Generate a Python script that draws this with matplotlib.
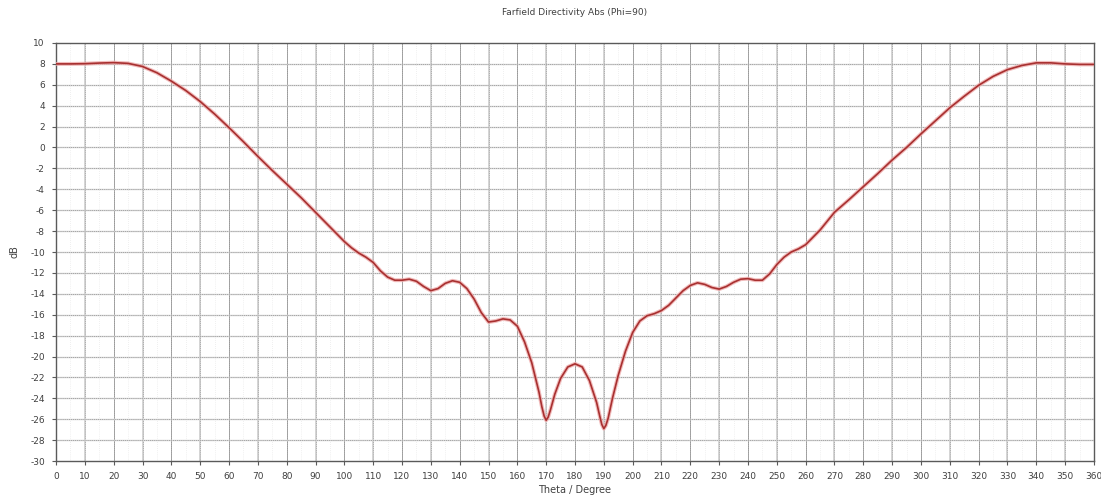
import numpy as np
import matplotlib
matplotlib.use("Agg")
import matplotlib.pyplot as plt

plt.rcParams['axes.unicode_minus'] = False

# Farfield directivity cut, Phi = 90
theta_deg = [0, 5, 10, 15, 20, 25, 30, 35, 40, 45, 50, 55, 60, 65, 70, 75, 80, 85, 90, 95,
             100, 102.5, 105, 107.5, 110, 112.5, 115, 117.5, 120, 122.5, 125, 127.5, 130,
             132.5, 135, 137.5, 140, 142.5, 145, 147.5, 150, 152.5, 155, 157.5, 160, 162.5,
             165, 167.5, 168.5, 169.3, 170, 170.7, 171.5, 173, 175, 177.5, 180, 182.5, 185,
             187.5, 188.5, 189.3, 190, 190.7, 191.5, 193, 195, 197.5, 200, 202.5, 205,
             207.5, 210, 212.5, 215, 217.5, 220, 222.5, 225, 227.5, 230, 232.5, 235, 237.5,
             240, 242.5, 245, 247.5, 250, 252.5, 255, 257.5, 260, 265, 270, 275, 280, 285,
             290, 295, 300, 305, 310, 315, 320, 325, 330, 335, 340, 345, 350, 355, 360]
directivity_db = [8.0, 8.0, 8.02, 8.08, 8.12, 8.05, 7.75, 7.15, 6.35, 5.45, 4.4, 3.2, 1.9,
                  0.55, -0.85, -2.2, -3.5, -4.8, -6.2, -7.6,
                  -9.0, -9.6, -10.1, -10.5, -11.0, -11.8, -12.4, -12.7, -12.7, -12.6, -12.8,
                  -13.3, -13.7, -13.5, -13.0, -12.75, -12.9, -13.5, -14.5, -15.8, -16.7,
                  -16.6, -16.4, -16.5, -17.1, -18.6, -20.6, -23.4, -24.8, -25.7, -26.1,
                  -25.8, -25.1, -23.6, -22.1, -21.0, -20.7, -21.0, -22.3, -24.4, -25.6,
                  -26.5, -26.9, -26.6, -25.9, -24.0, -21.8, -19.5, -17.7, -16.6, -16.1,
                  -15.9, -15.6, -15.1, -14.4, -13.7, -13.2, -12.95, -13.1, -13.4, -13.55,
                  -13.3, -12.9, -12.6, -12.55, -12.7, -12.7, -12.1, -11.2, -10.5, -10.0,
                  -9.7, -9.3, -7.9, -6.2, -5.0, -3.75, -2.5, -1.2, 0.0, 1.3, 2.55, 3.8,
                  4.9, 5.95, 6.8, 7.45, 7.85, 8.1, 8.1, 8.0, 7.95, 7.95]

x_ticks = list(range(0, 361, 10))
y_ticks = list(range(-30, 11, 2))

fig = plt.figure(figsize=(11.01, 5.04), dpi=100)
ax = fig.add_axes([0.0509, 0.0853, 0.9427, 0.8294])

ax.set_xlim(0, 360)
ax.set_ylim(-30, 10)
ax.set_xticks(x_ticks)
ax.set_yticks(y_ticks)

# grid: light solid lines with a darker dotted overlay
for xv in x_ticks[1:-1]:
    if xv % 20:
        ax.axvline(xv, color='#cdcdcd', lw=1.2, zorder=1)
    else:
        ax.axvline(xv, color='#a8a8a8', lw=0.7, zorder=1)
    ax.axvline(xv, color='#8a8a8a', lw=0.5, ls=(0, (1, 2)), zorder=1)
for xv in np.arange(5, 360, 10):
    ax.axvline(xv, color='#e2e2e2', lw=0.5, ls=(0, (1, 2)), zorder=1)
for yv in y_ticks[1:-1]:
    ax.axhline(yv, color='#d2d2d2', lw=1.0, zorder=1)
    ax.axhline(yv, color='#7a7a7a', lw=0.5, ls=(0, (1, 2)), zorder=1)

# curve with a soft halo
ax.plot(theta_deg, directivity_db, color='#eeaaaa', lw=2.8, alpha=0.8, zorder=3,
        solid_joinstyle='round', solid_capstyle='round')
ax.plot(theta_deg, directivity_db, color='#a83030', lw=1.2, zorder=4,
        solid_joinstyle='round', solid_capstyle='round')

for s in ax.spines.values():
    s.set_color('#5a5a5a')
    s.set_linewidth(1.0)

ax.tick_params(axis='both', labelsize=6.5, colors='#5a5a5a', labelcolor='#404040',
               length=3, width=0.8, pad=5)

ax.set_title('Farfield Directivity Abs (Phi=90)', fontsize=6.5, color='#404040', pad=20)
ax.set_xlabel('Theta / Degree', fontsize=7, color='#404040', labelpad=3)
ax.set_ylabel('dB', fontsize=7, color='#404040', labelpad=8)

fig.savefig('out.png', dpi=100, facecolor='white')
